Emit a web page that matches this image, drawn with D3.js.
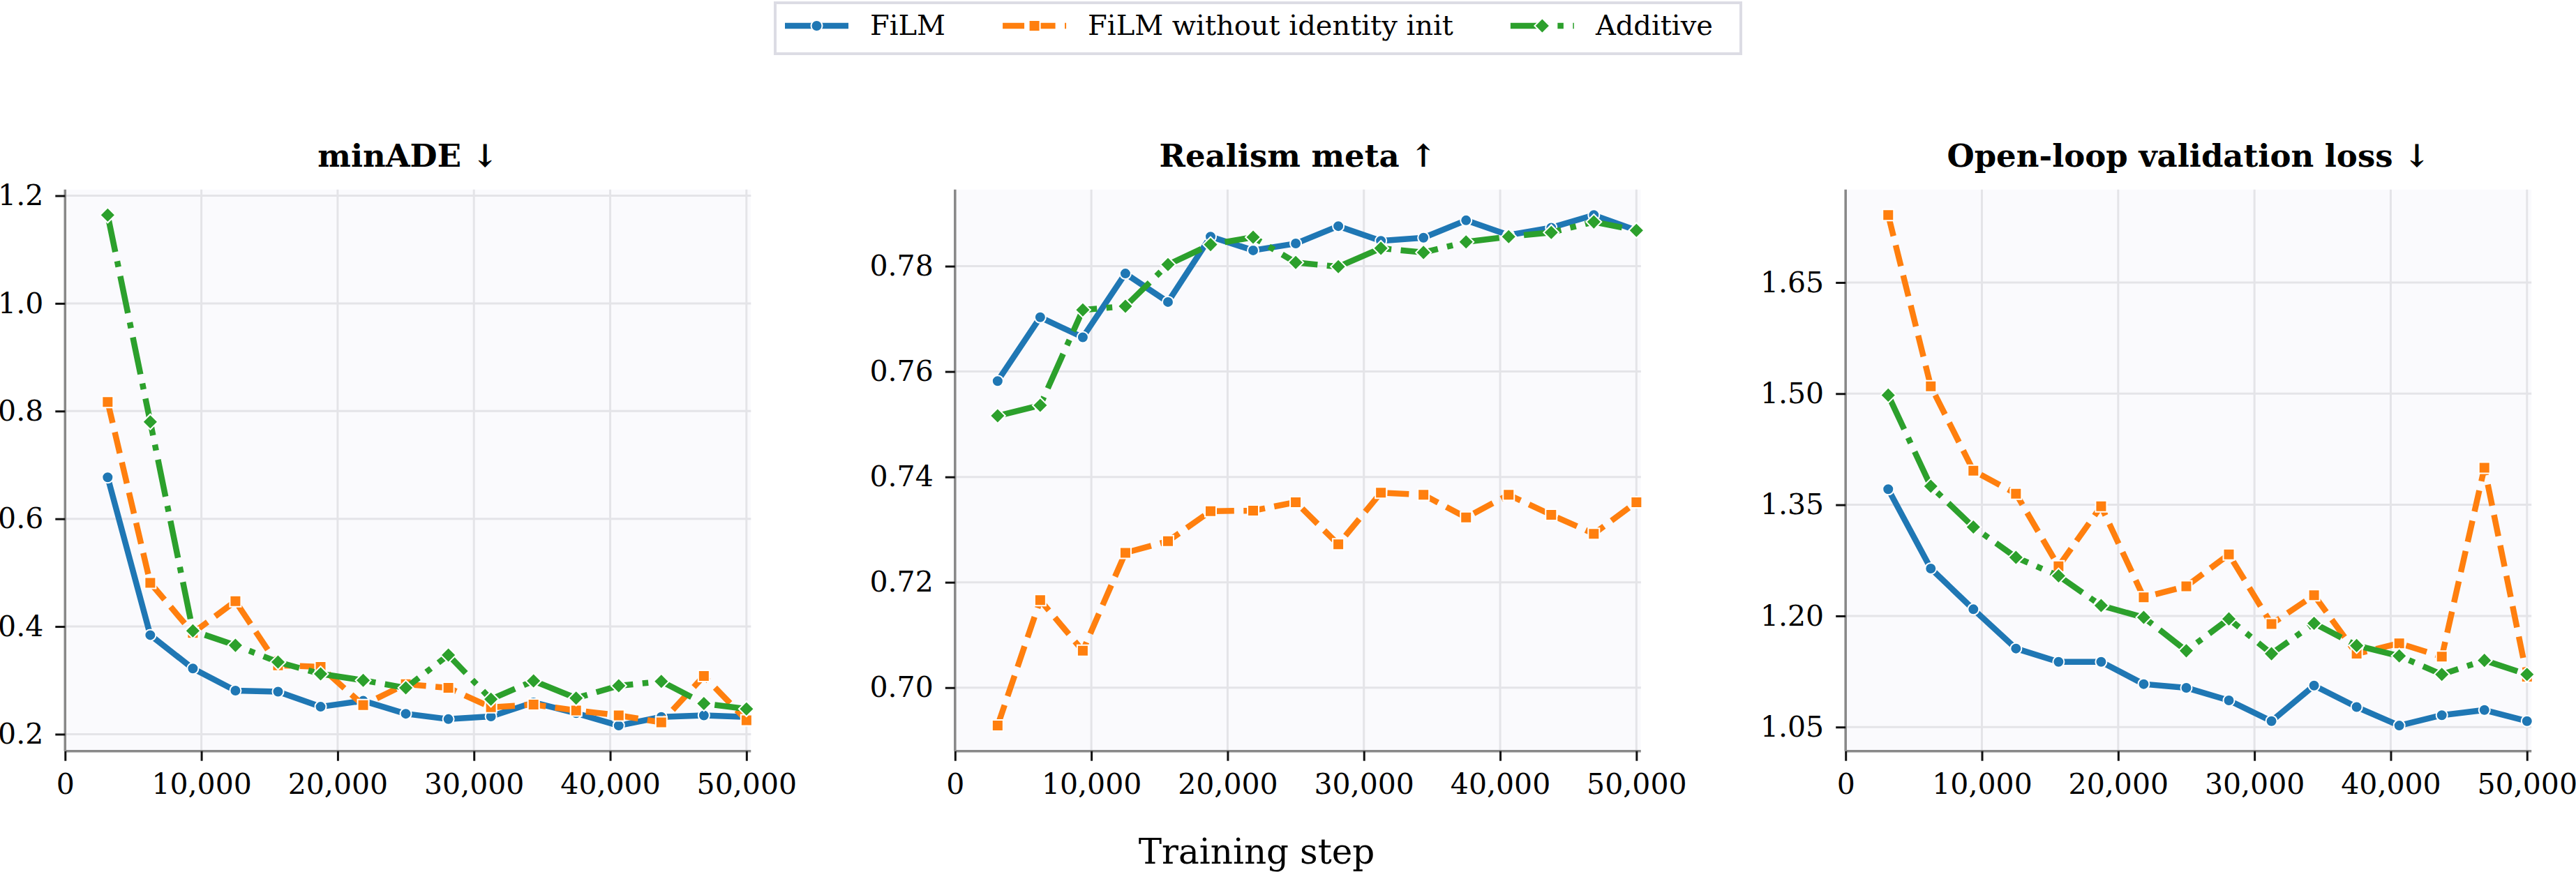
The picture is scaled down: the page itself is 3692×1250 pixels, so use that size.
<!DOCTYPE html>
<html><head><meta charset="utf-8">
<script src="https://cdn.jsdelivr.net/npm/d3@7"></script>
<style>
body{margin:0;background:#fff}
text{font-family:"DejaVu Serif",serif}
</style>
</head><body>
<svg id="c" width="3692" height="1250"></svg>
<script>
// ---------- data ----------
const steps = [3125,6250,9375,12500,15625,18750,21875,25000,28125,31250,34375,37500,40625,43750,46875,50000];
const seriesNames = ["FiLM","FiLM without identity init","Additive"];
const panelTitles = ["minADE \u2193","Realism meta \u2191","Open-loop validation loss \u2193"];
const xLabel = "Training step";

const minADE_FiLM     = [0.677,0.384,0.322,0.281,0.279,0.251,0.262,0.238,0.228,0.233,0.259,0.239,0.216,0.232,0.235,0.232];
const minADE_noIdent  = [0.817,0.481,0.388,0.447,0.328,0.325,0.254,0.293,0.286,0.250,0.255,0.244,0.235,0.222,0.308,0.226];
const minADE_Additive = [1.164,0.780,0.392,0.365,0.334,0.312,0.300,0.286,0.347,0.265,0.299,0.267,0.290,0.298,0.257,0.247];

const realism_FiLM     = [0.7582,0.7703,0.7665,0.7786,0.7732,0.7856,0.7830,0.7843,0.7876,0.7848,0.7854,0.7887,0.7859,0.7873,0.7897,0.7868];
const realism_noIdent  = [0.6928,0.7166,0.7070,0.7256,0.7278,0.7335,0.7336,0.7352,0.7272,0.7370,0.7366,0.7323,0.7366,0.7328,0.7292,0.7352];
const realism_Additive = [0.7516,0.7536,0.7717,0.7724,0.7803,0.7841,0.7855,0.7807,0.7799,0.7834,0.7826,0.7846,0.7856,0.7864,0.7884,0.7868];

const loss_FiLM     = [1.371,1.264,1.209,1.156,1.138,1.138,1.108,1.103,1.086,1.058,1.106,1.077,1.052,1.066,1.073,1.058];
const loss_noIdent  = [1.741,1.510,1.396,1.365,1.267,1.348,1.225,1.240,1.283,1.189,1.228,1.149,1.163,1.145,1.400,1.118];
const loss_Additive = [1.498,1.375,1.320,1.279,1.254,1.214,1.198,1.153,1.196,1.149,1.190,1.160,1.146,1.121,1.140,1.121];

const xTicks = [0,10000,20000,30000,40000,50000];
const yTicksMinADE  = [0.2,0.4,0.6,0.8,1.0,1.2];
const yTicksRealism = [0.70,0.72,0.74,0.76,0.78];
const yTicksLoss    = [1.05,1.20,1.35,1.50,1.65];

// ---------- style ----------
const colors = ["#1f77b4","#ff7f0e","#2ca02c"];
const LW = 8.5;
const dashes = [null, "31,13.5", "54,13.5,8.5,13.5"];
const markerTypes = ["circle","square","diamond"];

const panels = [
  {title: panelTitles[0], series:[minADE_FiLM,minADE_noIdent,minADE_Additive], ticks:yTicksMinADE, fmt:d3.format(".1f"), left:93.3},
  {title: panelTitles[1], series:[realism_FiLM,realism_noIdent,realism_Additive], ticks:yTicksRealism, fmt:d3.format(".2f"), left:1368.8},
  {title: panelTitles[2], series:[loss_FiLM,loss_noIdent,loss_Additive], ticks:yTicksLoss, fmt:d3.format(".2f"), left:2645.2}
];
const plotW = 983, plotTop = 271.7, plotBottom = 1076.7;

const svg = d3.select("#c");

function markerPath(type){
  if(type==="circle") return d3.symbol(d3.symbolCircle, Math.PI*8*8)();
  if(type==="square") return d3.symbol(d3.symbolSquare, 16*16)();
  return d3.symbol(d3.symbolSquare, 15.5*15.5)();
}
function markerTransform(type,x,y){
  return `translate(${x},${y})` + (type==="diamond" ? " rotate(45)" : "");
}

panels.forEach(p => {
  const x = d3.scaleLinear().domain([0,50330]).range([p.left, p.left+plotW]);
  const all = p.series.flat();
  const lo = d3.min(all), hi = d3.max(all), m = (hi-lo)*0.05;
  const y = d3.scaleLinear().domain([lo-m, hi+m]).range([plotBottom, plotTop]);
  const g = svg.append("g");

  g.append("rect").attr("x",p.left).attr("y",plotTop).attr("width",plotW).attr("height",plotBottom-plotTop)
    .attr("fill","#fafafd");

  // grid
  g.append("g").selectAll("line").data(xTicks).join("line")
    .attr("x1",d=>x(d)).attr("x2",d=>x(d)).attr("y1",plotTop).attr("y2",plotBottom)
    .attr("stroke","#e4e4e8").attr("stroke-width",3);
  g.append("g").selectAll("line").data(p.ticks).join("line")
    .attr("x1",p.left).attr("x2",p.left+plotW).attr("y1",d=>y(d)).attr("y2",d=>y(d))
    .attr("stroke","#e4e4e8").attr("stroke-width",3);

  // axes
  const xa = g.append("g").attr("transform",`translate(0,${plotBottom})`)
    .call(d3.axisBottom(x).tickValues(xTicks).tickFormat(d3.format(",")).tickSize(14).tickSizeOuter(0).tickPadding(18));
  const ya = g.append("g").attr("transform",`translate(${p.left},0)`)
    .call(d3.axisLeft(y).tickValues(p.ticks).tickFormat(p.fmt).tickSize(14).tickSizeOuter(0).tickPadding(17));
  [xa,ya].forEach(a=>{
    a.select(".domain").attr("stroke","#888").attr("stroke-width",3.5);
    a.selectAll(".tick line").attr("stroke","#111").attr("stroke-width",3);
    a.selectAll(".tick text").attr("font-family","DejaVu Serif").attr("font-size",41).attr("fill","#000");
  });
  xa.select(".domain").attr("d",`M${p.left},0H${p.left+plotW}`);
  ya.select(".domain").attr("d",`M0,${plotBottom}V${plotTop}`);

  // title
  g.append("text").attr("x",p.left+plotW/2).attr("y",239).attr("text-anchor","middle")
    .attr("font-size",45).attr("font-weight","bold").text(p.title);

  // series
  const line = d3.line().x((d,i)=>x(steps[i])).y(d=>y(d));
  p.series.forEach((vals,si)=>{
    const sg = g.append("g");
    sg.append("path").attr("d",line(vals)).attr("fill","none")
      .attr("stroke",colors[si]).attr("stroke-width",LW)
      .attr("stroke-dasharray",dashes[si]).attr("stroke-linejoin","round");
    sg.selectAll("path.m").data(vals).join("path").attr("class","m")
      .attr("d",markerPath(markerTypes[si]))
      .attr("transform",(d,i)=>markerTransform(markerTypes[si],x(steps[i]),y(d)))
      .attr("fill",colors[si]).attr("stroke","#fff").attr("stroke-width",2);
  });
});

// x label
svg.append("text").attr("x",1801).attr("y",1238).attr("text-anchor","middle")
  .attr("font-size",50).text(xLabel);

// legend
const leg = svg.append("g");
leg.append("rect").attr("x",1111).attr("y",4).attr("width",1384).attr("height",73)
  .attr("fill","#fff").attr("stroke","#dcdce4").attr("stroke-width",4);
let lx = 1125;
const ly = 37;
seriesNames.forEach((name,si)=>{
  leg.append("line").attr("x1",lx).attr("x2",lx+91).attr("y1",ly).attr("y2",ly)
    .attr("stroke",colors[si]).attr("stroke-width",LW).attr("stroke-dasharray",dashes[si]);
  leg.append("path").attr("d",markerPath(markerTypes[si]))
    .attr("transform",markerTransform(markerTypes[si],lx+45.5,ly))
    .attr("fill",colors[si]).attr("stroke","#fff").attr("stroke-width",2);
  const t = leg.append("text").attr("x",lx+122).attr("y",50).attr("font-size",40).text(name);
  const w = t.node().getComputedTextLength();
  lx = lx + 122 + w + 82;
});
</script>
</body></html>
